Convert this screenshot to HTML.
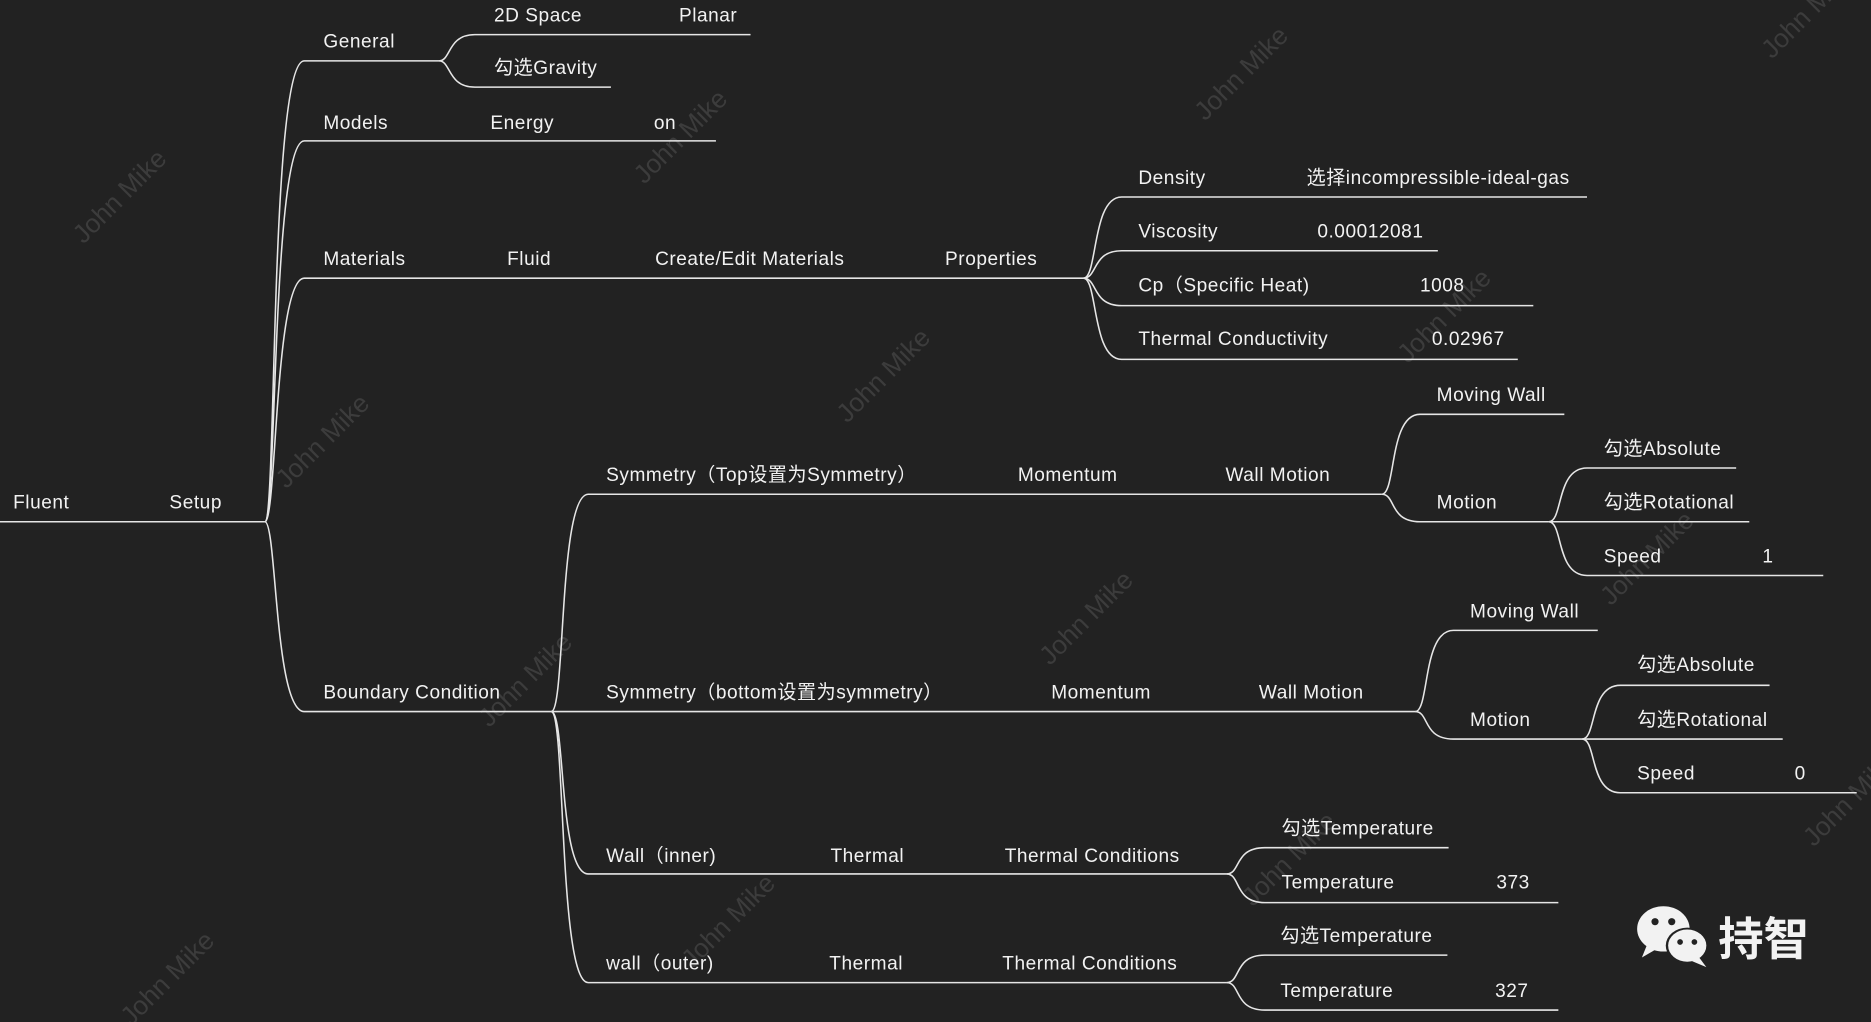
<!DOCTYPE html>
<html><head><meta charset="utf-8"><style>
html,body{margin:0;padding:0;background:#222222;}
svg{display:block}
text{font-family:"Liberation Sans","Noto Sans CJK SC",sans-serif;font-size:16px;fill:#f2f2f2;letter-spacing:0.45px;}
.wm{fill:#3c3c3c;font-size:22px;letter-spacing:0;}
</style></head><body>
<svg width="1871" height="1022" viewBox="0 0 1568 856" preserveAspectRatio="none" xmlns="http://www.w3.org/2000/svg">
<rect width="1568" height="856" fill="#222222"/>
<g class="wmg">
<text class="wm" transform="translate(70,205) rotate(-45)">John Mike</text>
<text class="wm" transform="translate(540,155) rotate(-45)">John Mike</text>
<text class="wm" transform="translate(1010,102) rotate(-45)">John Mike</text>
<text class="wm" transform="translate(1485,50) rotate(-45)">John Mike</text>
<text class="wm" transform="translate(240,410) rotate(-45)">John Mike</text>
<text class="wm" transform="translate(710,355) rotate(-45)">John Mike</text>
<text class="wm" transform="translate(1180,305) rotate(-45)">John Mike</text>
<text class="wm" transform="translate(410,610) rotate(-45)">John Mike</text>
<text class="wm" transform="translate(880,558) rotate(-45)">John Mike</text>
<text class="wm" transform="translate(1350,508) rotate(-45)">John Mike</text>
<text class="wm" transform="translate(580,812) rotate(-45)">John Mike</text>
<text class="wm" transform="translate(1050,760) rotate(-45)">John Mike</text>
<text class="wm" transform="translate(1520,710) rotate(-45)">John Mike</text>
<text class="wm" transform="translate(110,860) rotate(-45)">John Mike</text>
</g>
<g fill="none" stroke="#e6e6e6" stroke-width="1.3">
<path d="M0,437 H222"/>
<path d="M222,437 C232,437 226,51 255,51 H368"/>
<path d="M222,437 C232,437 228,118 255,118 H600"/>
<path d="M222,437 C232,437 230,233 255,233 H908"/>
<path d="M222,437 C232,437 230,596 255,596 H462"/>
<path d="M368,51 C378,51 375,29 398,29 H629"/>
<path d="M368,51 C378,51 375,73 398,73 H512"/>
<path d="M908,233 C920,233 915,165 940,165 H1330"/>
<path d="M908,233 C920,233 915,210 940,210 H1205"/>
<path d="M908,233 C920,233 915,256 940,256 H1285"/>
<path d="M908,233 C920,233 915,301 940,301 H1272"/>
<path d="M462,596 C474,596 468,414 493,414 H1158"/>
<path d="M462,596 H1186"/>
<path d="M462,596 C474,596 468,732 493,732 H1028"/>
<path d="M462,596 C474,596 468,823 493,823 H1028"/>
<path d="M1158,414 C1170,414 1164,347 1190,347 H1311"/>
<path d="M1158,414 C1170,414 1164,437 1190,437 H1298"/>
<path d="M1298,437 C1310,437 1304,392 1330,392 H1455"/>
<path d="M1298,437 H1466"/>
<path d="M1298,437 C1310,437 1304,482 1330,482 H1528"/>
<path d="M1186,596 C1198,596 1192,528 1218,528 H1339"/>
<path d="M1186,596 C1198,596 1192,619 1218,619 H1326"/>
<path d="M1326,619 C1338,619 1332,574 1358,574 H1483"/>
<path d="M1326,619 H1494"/>
<path d="M1326,619 C1338,619 1332,664 1358,664 H1556"/>
<path d="M1028,732 C1040,732 1034,710 1060,710 H1214"/>
<path d="M1028,732 C1040,732 1034,756 1060,756 H1306"/>
<path d="M1028,823 C1040,823 1034,800 1060,800 H1213"/>
<path d="M1028,823 C1040,823 1034,846 1060,846 H1306"/>
</g>
<g>
<text x="11" y="426">Fluent</text>
<text x="142" y="426">Setup</text>
<text x="271" y="40">General</text>
<text x="414" y="18">2D Space</text>
<text x="569" y="18">Planar</text>
<text x="414" y="62">勾选Gravity</text>
<text x="271" y="108">Models</text>
<text x="411" y="108">Energy</text>
<text x="548" y="108">on</text>
<text x="271" y="222">Materials</text>
<text x="425" y="222">Fluid</text>
<text x="549" y="222">Create/Edit Materials</text>
<text x="792" y="222">Properties</text>
<text x="954" y="154">Density</text>
<text x="1095" y="154">选择incompressible-ideal-gas</text>
<text x="954" y="199">Viscosity</text>
<text x="1104" y="199">0.00012081</text>
<text x="954" y="244">Cp（Specific Heat)</text>
<text x="1190" y="244">1008</text>
<text x="954" y="289">Thermal Conductivity</text>
<text x="1200" y="289">0.02967</text>
<text x="271" y="585">Boundary Condition</text>
<text x="508" y="403">Symmetry（Top设置为Symmetry）</text>
<text x="853" y="403">Momentum</text>
<text x="1027" y="403">Wall Motion</text>
<text x="1204" y="336">Moving Wall</text>
<text x="1204" y="426">Motion</text>
<text x="1344" y="381">勾选Absolute</text>
<text x="1344" y="426">勾选Rotational</text>
<text x="1344" y="471">Speed</text>
<text x="1477" y="471">1</text>
<text x="508" y="585">Symmetry（bottom设置为symmetry）</text>
<text x="881" y="585">Momentum</text>
<text x="1055" y="585">Wall Motion</text>
<text x="1232" y="517">Moving Wall</text>
<text x="1232" y="608">Motion</text>
<text x="1372" y="562">勾选Absolute</text>
<text x="1372" y="608">勾选Rotational</text>
<text x="1372" y="653">Speed</text>
<text x="1504" y="653">0</text>
<text x="508" y="722">Wall（inner)</text>
<text x="696" y="722">Thermal</text>
<text x="842" y="722">Thermal Conditions</text>
<text x="1074" y="699">勾选Temperature</text>
<text x="1074" y="744">Temperature</text>
<text x="1254" y="744">373</text>
<text x="508" y="812">wall（outer)</text>
<text x="695" y="812">Thermal</text>
<text x="840" y="812">Thermal Conditions</text>
<text x="1073" y="789">勾选Temperature</text>
<text x="1073" y="835">Temperature</text>
<text x="1253" y="835">327</text>
</g>
<g fill="#f2f2f2">
<ellipse cx="1394" cy="778" rx="22" ry="19"/>
<path d="M1380,792 L1376,802 L1388,795 Z"/>
<ellipse cx="1414" cy="792" rx="18" ry="15" fill="#222" />
<ellipse cx="1414" cy="792" rx="16" ry="13.5"/>
<path d="M1424,802 L1430,810 L1418,805 Z"/>
<circle cx="1387" cy="772" r="3" fill="#222"/>
<circle cx="1401" cy="772" r="3" fill="#222"/>
<circle cx="1408" cy="789" r="2.4" fill="#222"/>
<circle cx="1420" cy="789" r="2.4" fill="#222"/>
<text x="1440" y="800" style="font-size:38px;font-weight:bold;letter-spacing:0">持智</text>
</g>
</svg>
</body></html>
